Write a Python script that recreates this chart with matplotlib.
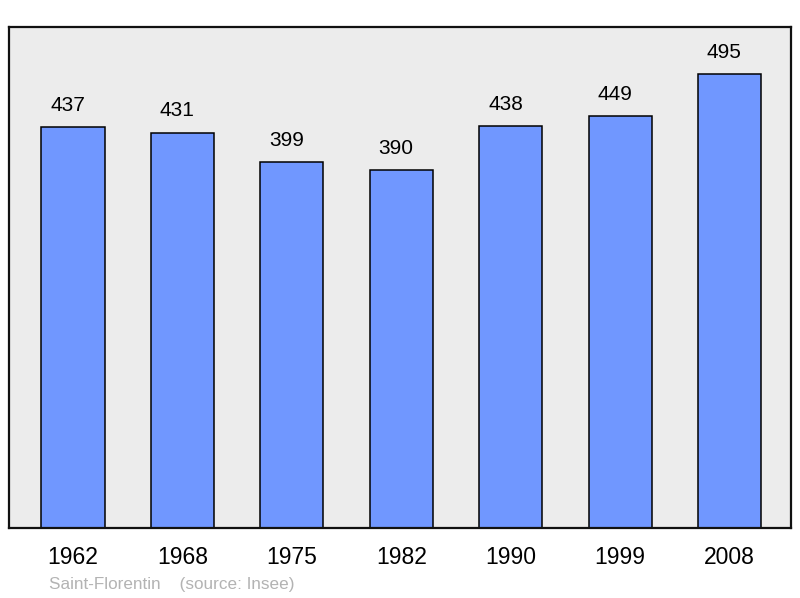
import matplotlib.pyplot as plt

years = ['1962', '1968', '1975', '1982', '1990', '1999', '2008']
population = [437, 431, 399, 390, 438, 449, 495]
town = 'Saint-Florentin'
source = '(source: Insee)'

plt.rcParams['font.family'] = ['Liberation Sans', 'DejaVu Sans']

fig = plt.figure(figsize=(8, 5.98), dpi=100)
ax = fig.add_axes([9 / 800, 70 / 598, 782 / 800, 501 / 598])
ax.set_facecolor('#ececec')

x = range(len(years))
bars = ax.bar(x, population, width=0.576, color='#7097ff',
              edgecolor='black', linewidth=1.1, zorder=2)

# value labels sit a bit left of the bar centre, like the original
for xi, v in zip(x, population):
    ax.annotate(str(v), (xi, v), xytext=(-3.75, 15.5), textcoords='offset points',
                ha='center', va='center', fontsize=15, color='black')

ax.set_xlim(-0.585, 6.562)
ax.set_ylim(0, 546)
ax.set_yticks([])
ax.set_xticks(list(x))
ax.set_xticklabels(years, fontsize=16.5)
ax.tick_params(axis='x', length=0, pad=13)

for s in ax.spines.values():
    s.set_linewidth(1.6)
    s.set_color('#111111')

fig.text(49 / 800, 1 - 584 / 598, town + '    ' + source, fontsize=12.3,
         color='#b3b3b3', va='center', ha='left')

fig.savefig('out.png', dpi=100)
